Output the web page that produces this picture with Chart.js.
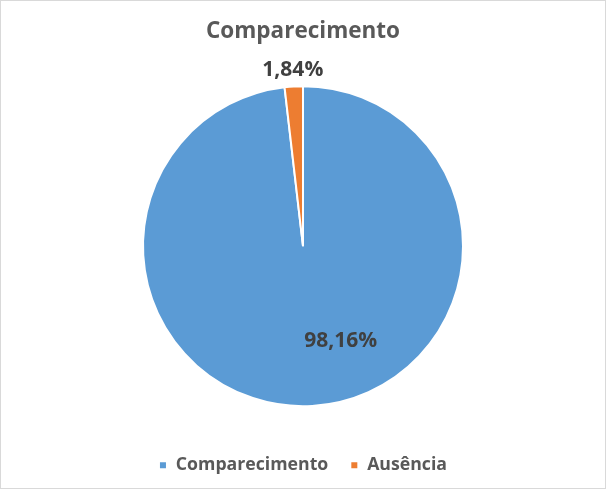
<!DOCTYPE html>
<html lang="pt">
<head>
    <meta charset="UTF-8">
    <title>Comparecimento</title>
    <script src="https://cdn.jsdelivr.net/npm/chart.js"></script>
    <style>
        body {
            margin: 0;
            background-color: #ffffff;
        }
        .container {
            width: 606px;
            height: 489px;
            box-sizing: border-box;
            border: 1px solid #d9d9d9;
            position: relative;
        }
    </style>
</head>
<body>
    <div class="container">
        <canvas id="myChart"></canvas>
    </div>

    <script>
        const categorias = ['Comparecimento', 'Ausência'];
        const percentuais = [98.16, 1.84];
        const rotulos = ['98,16%', '1,84%'];
        const cores = ['#5b9bd5', '#ed7d31'];

        const fonte = '"Open Sans", sans-serif';

        // rótulos de dados (como no Excel): dentro da fatia grande, fora da pequena
        const rotulosPlugin = {
            id: 'rotulos',
            afterDatasetsDraw(chart) {
                const ctx = chart.ctx;
                const meta = chart.getDatasetMeta(0);
                ctx.save();
                ctx.font = 'bold 21px ' + fonte;
                ctx.fillStyle = '#404040';
                ctx.textAlign = 'center';
                ctx.textBaseline = 'middle';
                meta.data.forEach(function(arc, i) {
                    const p = arc.getProps(['x', 'y', 'startAngle', 'endAngle', 'outerRadius']);
                    let ang = (p.startAngle + p.endAngle) / 2;
                    let dist = p.outerRadius * 1.1;
                    if (i === 0) {
                        ang = ang - 0.32;
                        dist = p.outerRadius * 0.64;
                    }
                    ctx.fillText(rotulos[i], p.x + Math.cos(ang) * dist, p.y + Math.sin(ang) * dist);
                });
                ctx.restore();
            }
        };

        const ctx = document.getElementById('myChart').getContext('2d');
        const chart = new Chart(ctx, {
            type: 'pie',
            data: {
                labels: categorias,
                datasets: [{
                    data: percentuais,
                    backgroundColor: cores,
                    borderColor: '#ffffff',
                    borderWidth: 2,
                    radius: 160
                }]
            },
            options: {
                responsive: true,
                maintainAspectRatio: false,
                animation: false,
                layout: { padding: { left: 0, right: 0, top: 0, bottom: 4 } },
                plugins: {
                    title: {
                        display: true,
                        text: 'Comparecimento',
                        color: '#595959',
                        font: { family: fonte, size: 22.5, weight: 'bold' },
                        padding: { top: 17, bottom: 13 }
                    },
                    legend: {
                        position: 'bottom',
                        labels: {
                            color: '#595959',
                            font: { family: fonte, size: 17.7, weight: 'bold' },
                            boxWidth: 8,
                            boxHeight: 8,
                            padding: 22
                        }
                    },
                    tooltip: { enabled: false }
                }
            },
            plugins: [rotulosPlugin]
        });
    </script>
</body>
</html>
